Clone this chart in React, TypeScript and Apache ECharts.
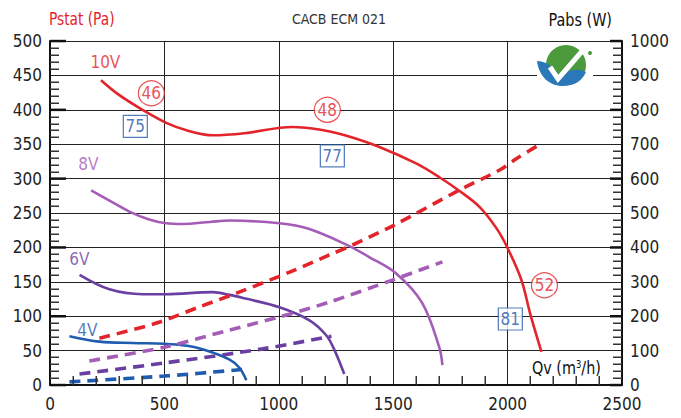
import React, { useEffect, useRef } from "react";
import * as echarts from "echarts";

const FONT = '"Liberation Sans Narrow", "DejaVu Sans Condensed", "Roboto Condensed", Arial, sans-serif';

// Pressure curves (Qv m3/h -> Pstat Pa)
const q10 = [223, 300, 404, 508, 600, 711, 850, 1060, 1200, 1300, 1440, 1600, 1702, 1790, 1877, 1951, 2000, 2060, 2100, 2148];
const p10 = [443, 422, 400, 381, 370, 363, 366, 375, 370, 362, 346, 322, 302, 282, 259, 228, 199, 153, 102, 48];
const q8 = [180, 260, 347, 430, 508, 579, 700, 785, 1003, 1130, 1295, 1395, 1513, 1627, 1702, 1715];
const p8 = [283, 268, 252, 241, 235, 234, 237, 239, 235, 227, 204, 186, 162, 119, 54, 29];
const q6 = [129, 260, 405, 508, 711, 785, 850, 1003, 1134, 1208, 1243, 1286];
const p6 = [160, 139, 132, 132, 135, 131, 126, 113, 94, 72, 51, 16];
const q4 = [85, 216, 361, 500, 600, 666, 785, 828, 858];
const p4 = [71, 63, 61, 60, 57, 52, 37, 25, 7];

// Power curves (Qv m3/h -> Pabs W)
const qw10 = [216, 465, 653, 815, 1047, 1221, 1322, 1505, 1790, 1965, 2043, 2150];
const w10 = [136, 180, 227, 267, 328, 378, 407, 465, 567, 625, 660, 703];
const qw8 = [172, 500, 785, 1003, 1221, 1496, 1715];
const w8 = [70, 110, 160, 198, 241, 305, 358];
const qw6 = [129, 500, 929, 1230];
const w6 = [32, 64, 105, 142];
const qw4 = [85, 500, 858];
const w4 = [9, 26, 46];

// Annotations (data coordinates on Pstat axis)
const circleQ = [443, 1212, 2161];
const circleP = [424, 400, 145];
const circleText = ["46", "48", "52"];
const boxQ = [373, 1234, 2012];
const boxP = [376, 333, 96];
const boxText = ["75", "77", "81"];
const voltQ = [242, 168, 128, 163];
const voltP = [469, 321, 183, 80];
const voltText = ["10V", "8V", "6V", "4V"];

// Axis tick values
const pMinorTicks = [10, 20, 30, 40, 60, 70, 80, 90, 110, 120, 130, 140, 160, 170, 180, 190, 210, 220, 230, 240, 260, 270, 280, 290, 310, 320, 330, 340, 360, 370, 380, 390, 410, 420, 430, 440, 460, 470, 480, 490];
const pMajorTicks = [0, 100, 200, 300, 400, 500];
const wMinorTicks = [20, 40, 60, 80, 120, 140, 160, 180, 220, 240, 260, 280, 320, 340, 360, 380, 420, 440, 460, 480, 520, 540, 560, 580, 620, 640, 660, 680, 720, 740, 760, 780, 820, 840, 860, 880, 920, 940, 960, 980];
const wMajorTicks = [0, 200, 400, 600, 800, 1000];
const qMinorTicks = [100, 200, 300, 400, 600, 700, 800, 900, 1100, 1200, 1300, 1400, 1600, 1700, 1800, 1900, 2100, 2200, 2300, 2400];

const RED = "#e3242b";
const VIO = "#a45cb7";
const PUR = "#6b3fa2";
const BLUE = "#1f5cb0";
const voltColors = [RED, VIO, PUR, BLUE];

const zip = (a: number[], b: number[]) => a.map((v, i) => [v, b[i]]);

echarts.graphic.registerShape(
  "logoBlue",
  echarts.graphic.extendPath("M0,17 C8,17 16,22 22,31 C32,26 42,24 49,28 C45,37 37,42 26,42 C12,42 2,32 0,17 Z", {})
);

export default function App() {
  const ref = useRef<HTMLDivElement>(null);
  useEffect(() => {
    if (!ref.current) return;
    const chart = echarts.init(ref.current, null, { renderer: "svg" });
    const solid = (name: string, q: number[], p: number[], color: string) => ({
      name,
      type: "line",
      yAxisIndex: 0,
      data: zip(q, p),
      smooth: 0.35,
      showSymbol: false,
      symbol: "none",
      lineStyle: { color, width: 2.6 },
      z: 3,
    });
    const dashed = (name: string, q: number[], w: number[], color: string) => ({
      name,
      type: "line",
      yAxisIndex: 1,
      data: zip(q, w),
      smooth: 0.3,
      showSymbol: false,
      symbol: "none",
      lineStyle: { color, width: 3.6, type: [11, 7] },
      z: 3,
    });
    const label = (v: number) => String(v);
    const logo = {
      type: "group",
      x: 537,
      y: 44,
      z: 10,
      children: [
        { type: "rect", shape: { x: 0, y: 0, width: 56, height: 43 }, style: { fill: "#fff" } },
        { type: "circle", shape: { cx: 29, cy: 21, r: 20 }, style: { fill: "#4b9a3c" } },
        { type: "logoBlue", x: 0, y: 0, style: { fill: "#2a78b8" } },
        {
          type: "polyline",
          shape: { points: [[13, 23], [21, 35], [47, 5]] },
          style: { stroke: "#fff", lineWidth: 5, fill: null },
        },
        { type: "circle", shape: { cx: 53, cy: 9, r: 2 }, style: { fill: "#4b9a3c" } },
      ],
    };
    const texts = [
      {
        type: "text",
        x: 49,
        y: 10,
        scaleX: 0.85,
        style: { text: "Pstat (Pa)", fill: RED, fontSize: 18, fontFamily: FONT },
      },
      {
        type: "text",
        x: 339,
        y: 12,
        style: { text: "CACB ECM 021", fill: "#333", fontSize: 14, fontFamily: FONT, textAlign: "center" },
      },
      {
        type: "text",
        x: 612,
        y: 11,
        scaleX: 0.89,
        style: { text: "Pabs (W)", fill: "#111", fontSize: 18, fontFamily: FONT, textAlign: "right" },
      },
      {
        type: "text",
        x: 532,
        y: 359,
        z: 10,
        scaleX: 0.94,
        style: {
          text: "Qv (m{s|3}/h)",
          fill: "#111",
          fontSize: 17,
          fontFamily: FONT,
          rich: { s: { fontSize: 10, verticalAlign: "top", padding: [0, 0, 8, 0], fontFamily: FONT, fill: "#111" } },
        },
      },
    ];
    const option: any = {
      animation: false,
      backgroundColor: "#fff",
      textStyle: { fontFamily: FONT },
      grid: { left: 50, right: 59, top: 41, bottom: 33, containLabel: false },
      xAxis: {
        type: "value",
        min: 0,
        max: 2500,
        interval: 500,
        axisLine: { show: true, onZero: false, lineStyle: { color: "#111", width: 2 } },
        axisTick: { show: false },
        splitLine: { show: true, lineStyle: { color: "#222", width: 1 } },
        axisLabel: { fontSize: 17, color: "#222", margin: 10, fontFamily: FONT, formatter: label },
      },
      yAxis: [
        {
          type: "value",
          min: 0,
          max: 500,
          interval: 50,
          axisLine: { show: true, onZero: false, lineStyle: { color: "#111", width: 2 } },
          axisTick: { show: false },
          splitLine: { show: true, lineStyle: { color: "#222", width: 1 } },
          axisLabel: { fontSize: 17, color: "#222", margin: 8, fontFamily: FONT, formatter: label },
        },
        {
          type: "value",
          position: "right",
          min: 0,
          max: 1000,
          interval: 100,
          axisLine: { show: true, onZero: false, lineStyle: { color: "#111", width: 2 } },
          axisTick: { show: false },
          splitLine: { show: false },
          axisLabel: { fontSize: 17, color: "#222", margin: 8, fontFamily: FONT, formatter: label },
        },
      ],
      series: [
        solid("10V", q10, p10, RED),
        solid("8V", q8, p8, VIO),
        solid("6V", q6, p6, PUR),
        solid("4V", q4, p4, BLUE),
        dashed("10V W", qw10, w10, RED),
        dashed("8V W", qw8, w8, VIO),
        dashed("6V W", qw6, w6, PUR),
        dashed("4V W", qw4, w4, BLUE),
        {
          type: "scatter",
          yAxisIndex: 0,
          symbol: "circle",
          symbolSize: [26, 25],
          z: 5,
          itemStyle: { color: "#fff", borderColor: RED, borderWidth: 1.2 },
          label: {
            show: true,
            position: "inside",
            color: RED,
            fontSize: 17,
            fontFamily: FONT,
            formatter: (p: any) => p.value[2],
          },
          data: circleQ.map((q, i) => [q, circleP[i], circleText[i]]),
        },
        {
          type: "scatter",
          yAxisIndex: 0,
          symbol: "rect",
          symbolSize: [24, 22],
          z: 5,
          itemStyle: { color: "#fff", borderColor: "#2b5cad", borderWidth: 1.2 },
          label: {
            show: true,
            position: "inside",
            color: "#2456a8",
            fontSize: 17,
            fontFamily: FONT,
            formatter: (p: any) => p.value[2],
          },
          data: boxQ.map((q, i) => [q, boxP[i], boxText[i]]),
        },
        {
          type: "scatter",
          yAxisIndex: 0,
          symbol: "circle",
          symbolSize: 1,
          z: 5,
          itemStyle: { color: "rgba(0,0,0,0)" },
          label: {
            show: true,
            position: "inside",
            fontSize: 17,
            fontFamily: FONT,
            formatter: (p: any) => p.value[2],
          },
          data: voltQ.map((q, i) => ({
            value: [q, voltP[i], voltText[i]],
            label: { color: voltColors[i] },
          })),
        },
      ],
      graphic: [...texts, logo],
    };
    chart.setOption(option);

    // Axis ticks as thin filled rects, positioned through the chart's own scales
    const toPx = (yAxisIndex: number, q: number, v: number) =>
      chart.convertToPixel({ xAxisIndex: 0, yAxisIndex } as any, [q, v]) as number[];
    const bar = (x: number, y: number, width: number, height: number, fill: string) => ({
      type: "rect",
      silent: true,
      z: 100,
      shape: { x, y, width, height },
      style: { fill },
    });
    const ticks: any[] = [];
    pMinorTicks.forEach((v) => {
      const p = toPx(0, 0, v);
      ticks.push(bar(p[0], Math.round(p[1]) - 0.5, 9, 1.5, "#333"));
    });
    pMajorTicks.forEach((v) => {
      const p = toPx(0, 0, v);
      ticks.push(bar(p[0], p[1] - 1.2, 16, 2.5, "#111"));
    });
    wMinorTicks.forEach((v) => {
      const p = toPx(1, 2500, v);
      ticks.push(bar(p[0] - 9, Math.round(p[1]) - 0.5, 9, 1.5, "#333"));
    });
    wMajorTicks.forEach((v) => {
      const p = toPx(1, 2500, v);
      ticks.push(bar(p[0] - 12, p[1] - 1.2, 12, 2.5, "#111"));
    });
    qMinorTicks.forEach((v) => {
      const p = toPx(0, v, 0);
      ticks.push(bar(Math.round(p[0]) - 0.5, p[1] - 9, 1.5, 9, "#333"));
    });
    chart.setOption({ graphic: [...texts, logo, ...ticks] }, { replaceMerge: ["graphic"] } as any);

    return () => chart.dispose();
  }, []);
  return <div ref={ref} style={{ width: 681, height: 418, margin: -8 }} />;
}
